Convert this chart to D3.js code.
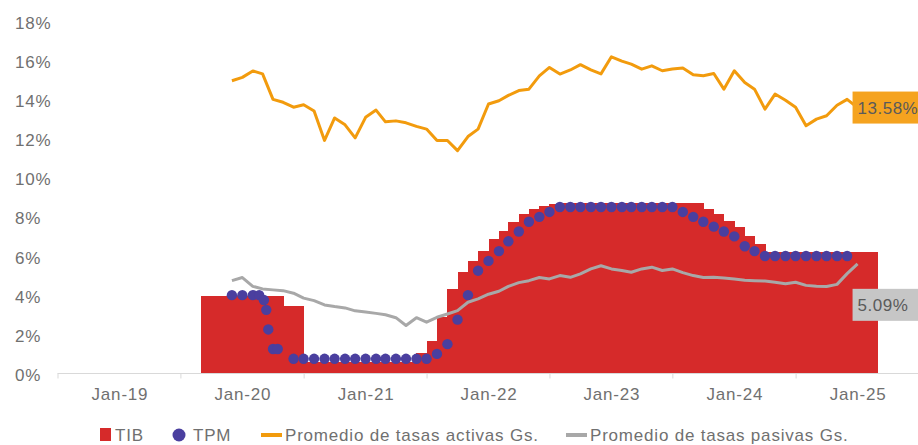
<!DOCTYPE html>
<html><head><meta charset="utf-8">
<script src="https://cdn.jsdelivr.net/npm/d3@7"></script>
<style>
body{margin:0;background:#fff;}
svg{display:block;font-family:"Liberation Sans",Arial,sans-serif;}
</style>
</head><body>
<svg id="chart" width="918" height="445"></svg>
<script>
// ---------- DATA ----------
const xTickLabels = ["Jan-19","Jan-20","Jan-21","Jan-22","Jan-23","Jan-24","Jan-25"];
const yTicks = [0,2,4,6,8,10,12,14,16,18];

// TIB: monthly, starting Sep-2019
const tibStart = "2019-09-01";
const tibValues = [
  3.95,3.95,3.95,3.95,3.95,3.95,3.95,3.95, // Sep-19 .. Apr-20
  3.45,3.45,                               // May-20, Jun-20
  0.6,0.6,0.6,0.6,0.6,0.6,0.6,0.6,0.6,0.6,0.6, // Jul-20 .. May-21
  1.05,1.68,2.87,4.32,5.17,5.77,6.28,6.87,7.3,7.72,8.15,8.4,8.57,8.66, // Jun-21 .. Jul-22
  8.7,8.7,8.7,8.7,8.7,8.7,8.7,8.7,8.7,8.7,8.7,8.7,8.7,8.7, // Aug-22 .. Sep-23
  8.4,8.15,7.8,7.46,7.04,6.6,              // Oct-23 .. Mar-24
  6.22,6.22,6.22,6.22,6.22,6.22,6.22,6.22,6.22,6.22,6.22 // Apr-24 .. Feb-25
];

// TPM: observation dates and values
const tpmDates = [
  "2019-12-01","2020-01-01","2020-02-01","2020-02-20","2020-03-05","2020-03-12","2020-03-18","2020-04-01","2020-04-15",
  "2020-06-01","2020-07-01","2020-08-01","2020-09-01","2020-10-01","2020-11-01","2020-12-01",
  "2021-01-01","2021-02-01","2021-03-01","2021-04-01","2021-05-01","2021-06-01","2021-07-01",
  "2021-08-01","2021-09-01","2021-10-01","2021-11-01","2021-12-01",
  "2022-01-01","2022-02-01","2022-03-01","2022-04-01","2022-05-01","2022-06-01","2022-07-01",
  "2022-08-01","2022-09-01","2022-10-01","2022-11-01","2022-12-01",
  "2023-01-01","2023-02-01","2023-03-01","2023-04-01","2023-05-01","2023-06-01","2023-07-01",
  "2023-08-01","2023-09-01","2023-10-01","2023-11-01","2023-12-01",
  "2024-01-01","2024-02-01","2024-03-01","2024-04-01","2024-05-01","2024-06-01","2024-07-01",
  "2024-08-01","2024-09-01","2024-10-01","2024-11-01","2024-12-01"
];
const tpmValues = [
  4.0,4.0,4.0,4.0,3.75,3.25,2.25,1.25,1.25,
  0.75,0.75,0.75,0.75,0.75,0.75,0.75,
  0.75,0.75,0.75,0.75,0.75,0.75,0.75,
  1.0,1.5,2.75,4.0,5.25,
  5.75,6.25,6.75,7.25,7.75,8.0,8.25,
  8.5,8.5,8.5,8.5,8.5,
  8.5,8.5,8.5,8.5,8.5,8.5,8.5,
  8.25,8.0,7.75,7.5,7.25,
  7.0,6.5,6.25,6.0,6.0,6.0,6.0,
  6.0,6.0,6.0,6.0,6.0
];

// Average lending / deposit rates in Gs., monthly from Dec-2019 to Jan-2025
const ratesStart = "2019-12-01";
const activasValues = [
  14.95,15.12,15.45,15.3,14.0,13.85,13.6,13.72,13.4,11.9,13.05,12.7,
  12.03,13.08,13.45,12.85,12.9,12.8,12.62,12.48,11.9,11.9,11.38,12.1,
  12.48,13.76,13.93,14.2,14.45,14.52,15.2,15.63,15.29,15.5,15.77,15.5,
  15.3,16.17,15.95,15.8,15.54,15.71,15.46,15.55,15.6,15.25,15.2,15.32,
  14.52,15.46,14.86,14.52,13.5,14.27,13.95,13.6,12.65,12.99,13.16,13.7,
  14.0,13.58
];
const pasivasValues = [
  4.74,4.9,4.45,4.32,4.27,4.23,4.1,3.85,3.72,3.5,3.42,3.35,
  3.2,3.14,3.07,3.0,2.85,2.45,2.85,2.62,2.87,3.04,3.21,3.64,
  3.81,4.05,4.2,4.45,4.64,4.74,4.9,4.83,5.0,4.91,5.09,5.34,
  5.5,5.34,5.26,5.17,5.34,5.43,5.26,5.34,5.15,5.0,4.9,4.91,
  4.88,4.83,4.76,4.74,4.72,4.66,4.58,4.66,4.5,4.45,4.44,4.55,
  5.1,5.6
];
const activasLabel = "13.58%";
const pasivasLabel = "5.09%";
const legendNames = ["TIB","TPM","Promedio de tasas activas Gs.","Promedio de tasas pasivas Gs."];

// ---------- STYLE ----------
const C = {red:"#d62a2a", blue:"#4a3f9f", orange:"#f29b0d", gray:"#a8a8a8",
           orangeBox:"#f5a31f", grayBox:"#c6c6c6", text:"#707070", axis:"#d9d9d9"};
const FS = 17, LS = "0.8px";

// ---------- SCALES ----------
const parse = d3.timeParse("%Y-%m-%d");
const svg = d3.select("#chart");
const x = d3.scaleTime()
  .domain([new Date(2018,6,1), new Date(2025,6,1)])
  .range([57.5, 918.5]);
const y = d3.scaleLinear().domain([0,18]).range([373.5, 21]);

// ---------- TIB bars ----------
const t0 = parse(tibStart);
const tib = tibValues.map((v,i)=>({d0:d3.timeMonth.offset(t0,i), d1:d3.timeMonth.offset(t0,i+1), v}));
svg.append("g").selectAll("rect").data(tib).join("rect")
  .attr("x", d=>x(d.d0)).attr("width", d=>x(d.d1)-x(d.d0)+0.6)
  .attr("y", d=>y(d.v)).attr("height", d=>y(0)-y(d.v))
  .attr("fill", C.red).attr("shape-rendering","crispEdges");

// ---------- TPM dots ----------
const tpm = tpmDates.map((d,i)=>({d:parse(d), v:tpmValues[i]}));
svg.append("g").selectAll("circle").data(tpm).join("circle")
  .attr("cx", d=>x(d.d)).attr("cy", d=>y(d.v)).attr("r", 5.2)
  .attr("fill", C.blue);

// ---------- lines ----------
const r0 = parse(ratesStart);
const act = activasValues.map((v,i)=>({d:d3.timeMonth.offset(r0,i), v}));
const pas = pasivasValues.map((v,i)=>({d:d3.timeMonth.offset(r0,i), v}));
const line = d3.line().x(d=>x(d.d)).y(d=>y(d.v));
svg.append("path").datum(act).attr("d", line).attr("fill","none")
  .attr("stroke", C.orange).attr("stroke-width", 3).attr("stroke-linejoin","round");
svg.append("path").datum(pas).attr("d", line).attr("fill","none")
  .attr("stroke", C.gray).attr("stroke-width", 3).attr("stroke-linejoin","round");

// ---------- axes ----------
const yAxis = svg.append("g").call(d3.axisLeft(y).tickValues(yTicks).tickFormat(d=>d+"%").tickSize(0));
yAxis.select(".domain").remove();
yAxis.selectAll("text").attr("x", 15).attr("dy","0.42em").attr("text-anchor","start")
  .attr("fill", C.text).style("font-size", FS+"px").style("letter-spacing", LS)
  .style("font-family","'Liberation Sans',Arial,sans-serif");

const janDates = xTickLabels.map(s=>d3.timeParse("%b-%y")(s));
const julDates = d3.range(2018,2026).map(yy=>new Date(yy,6,1));
const xMinor = svg.append("g").attr("transform",`translate(0,${y(0)})`)
  .call(d3.axisBottom(x).tickValues(julDates).tickFormat("").tickSize(5));
xMinor.select(".domain").attr("stroke", C.axis).attr("d", `M57.5,0H918`);
xMinor.selectAll("line").attr("stroke", C.axis);

const xAxis = svg.append("g").attr("transform",`translate(0,${y(0)})`)
  .call(d3.axisBottom(x).tickValues(janDates).tickFormat(d3.timeFormat("%b-%y")).tickSize(0));
xAxis.select(".domain").remove();
xAxis.selectAll("text").attr("y", 26).attr("dy", 0)
  .attr("fill", C.text).style("font-size", FS+"px").style("letter-spacing", LS)
  .style("font-family","'Liberation Sans',Arial,sans-serif");

// ---------- end labels ----------
const lastA = act[act.length-1], lastP = pas[pas.length-1];
function endLabel(px, cy, fill, txt){
  const g = svg.append("g");
  g.append("rect").attr("x", px).attr("y", cy-16).attr("width", 66).attr("height", 32).attr("fill", fill);
  g.append("text").attr("x", px+5).attr("y", cy+6).text(txt)
    .attr("fill", "#5a5a5a").style("font-size", FS+"px").style("letter-spacing","0.5px");
}
endLabel(x(lastA.d)-5, y(activasValues[activasValues.length-1]), C.orangeBox, activasLabel);
endLabel(x(lastP.d)-5, y(lastP.v)+41, C.grayBox, pasivasLabel);

// ---------- legend ----------
const lg = svg.append("g").style("font-size", FS+"px").style("letter-spacing", LS).attr("fill", C.text);
const ly = 435;
lg.append("rect").attr("x",100).attr("y",ly-7).attr("width",11).attr("height",13).attr("fill",C.red);
lg.append("text").attr("x",115).attr("y",ly+6).text(legendNames[0]);
lg.append("circle").attr("cx",179).attr("cy",ly).attr("r",6.5).attr("fill",C.blue);
lg.append("text").attr("x",193).attr("y",ly+6).text(legendNames[1]);
lg.append("line").attr("x1",261).attr("x2",282).attr("y1",ly).attr("y2",ly).attr("stroke",C.orange).attr("stroke-width",4);
lg.append("text").attr("x",285).attr("y",ly+6).text(legendNames[2]);
lg.append("line").attr("x1",566).attr("x2",587).attr("y1",ly).attr("y2",ly).attr("stroke",C.gray).attr("stroke-width",4);
lg.append("text").attr("x",590).attr("y",ly+6).text(legendNames[3]);
</script>
</body></html>
